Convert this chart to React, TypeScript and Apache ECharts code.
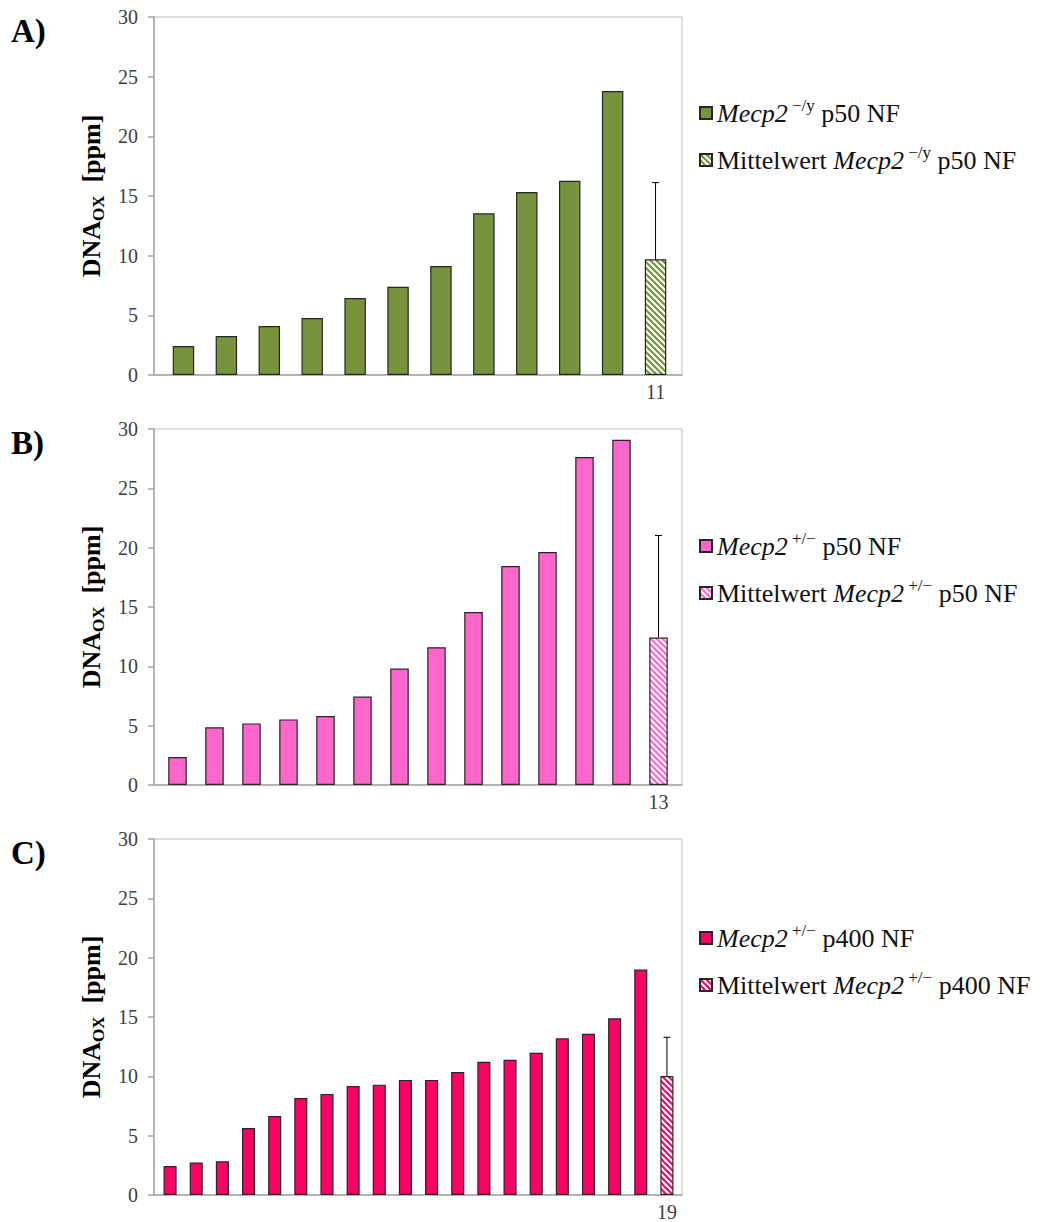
import React, { useEffect, useRef } from 'react';
import * as echarts from 'echarts';

// ---------- data ----------
const valuesA = [2.43, 3.27, 4.1, 4.78, 6.45, 7.4, 9.13, 13.55, 15.34, 16.28, 23.8];
const meanA = 9.69;
const sdA = 6.43;
const xLabelsA = ['', '', '', '', '', '', '', '', '', '', '', '11'];

const valuesB = [2.35, 4.86, 5.19, 5.53, 5.81, 7.45, 9.81, 11.61, 14.57, 18.45, 19.64, 27.63, 29.1];
const meanB = 12.43;
const sdB = 8.6;
const xLabelsB = ['', '', '', '', '', '', '', '', '', '', '', '', '', '13'];

const valuesC = [2.45, 2.73, 2.84, 5.65, 6.66, 8.18, 8.52, 9.19, 9.3, 9.7, 9.7, 10.37, 11.22, 11.39, 11.98, 13.2, 13.59, 14.89, 19.0];
const meanC = 10.03;
const sdC = 3.26;
const xLabelsC = ['', '', '', '', '', '', '', '', '', '', '', '', '', '', '', '', '', '', '', '19'];

const yMin = 0;
const yMax = 30;
const yInterval = 5;

const panelLabels = ['A)', 'B)', 'C)'];
const legendIndividual = [
  '{i|Mecp2}{s| −/y}{n| p50 NF}',
  '{i|Mecp2}{s| +/−}{n| p50 NF}',
  '{i|Mecp2}{s| +/−}{n| p400 NF}',
];
const legendMean = [
  '{n|Mittelwert }{i|Mecp2}{s| −/y}{n| p50 NF}',
  '{n|Mittelwert }{i|Mecp2}{s| +/−}{n| p50 NF}',
  '{n|Mittelwert }{i|Mecp2}{s| +/−}{n| p400 NF}',
];
const colors = ['#77933c', '#ff66cc', '#ff0066'];

// ---------- layout ----------
const FONT = "'Liberation Serif', serif";
const frameLeft = 154;
const frameWidth = 528;
const layout = [
  { top: 17, height: 358, barLeft: 162, barWidth: 515, legendTop: 92 },
  { top: 429, height: 356, barLeft: 159, barWidth: 518, legendTop: 525 },
  { top: 839, height: 356, barLeft: 157, barWidth: 523, legendTop: 917 },
];

function hatch(color: string) {
  const s = 6;
  const c = document.createElement('canvas');
  c.width = s;
  c.height = s;
  const ctx = c.getContext('2d')!;
  ctx.fillStyle = '#ffffff';
  ctx.fillRect(0, 0, s, s);
  ctx.strokeStyle = color;
  ctx.lineWidth = 2.2;
  for (const k of [-s, 0, s]) {
    ctx.beginPath();
    ctx.moveTo(-1, k - 1);
    ctx.lineTo(s + 1, s + k + 1);
    ctx.stroke();
  }
  return { image: c, repeat: 'repeat', imageWidth: s, imageHeight: s } as any;
}

export default function App() {
  const ref = useRef<HTMLDivElement>(null);

  useEffect(() => {
    if (!ref.current) return;
    const chart = echarts.init(ref.current, undefined, { renderer: 'svg' });

    const datasets = [
      { values: valuesA, mean: meanA, sd: sdA, xLabels: xLabelsA },
      { values: valuesB, mean: meanB, sd: sdB, xLabels: xLabelsB },
      { values: valuesC, mean: meanC, sd: sdC, xLabels: xLabelsC },
    ];

    const grid: any[] = [];
    const xAxis: any[] = [];
    const yAxis: any[] = [];
    const series: any[] = [];
    const legend: any[] = [];
    const graphic: any[] = [];

    datasets.forEach((d, p) => {
      const L = layout[p];
      const color = colors[p];
      grid.push({
        left: frameLeft, top: L.top, width: frameWidth, height: L.height,
        show: true, borderColor: '#bfbfbf', borderWidth: 1, backgroundColor: 'transparent',
      });
      grid.push({ left: L.barLeft, top: L.top, width: L.barWidth, height: L.height });

      xAxis.push({
        gridIndex: 2 * p, type: 'value', min: 0, max: 1,
        axisLine: { show: true, lineStyle: { color: '#a6a6a6', width: 1.5 } },
        axisTick: { show: false }, axisLabel: { show: false }, splitLine: { show: false },
      });
      xAxis.push({
        gridIndex: 2 * p + 1, type: 'category', data: d.xLabels,
        axisLine: { show: false }, axisTick: { show: false },
        axisLabel: {
          interval: 0, margin: 7, color: '#404040', fontFamily: FONT, fontSize: 20,
        },
      });
      yAxis.push({
        gridIndex: 2 * p, type: 'value', min: yMin, max: yMax, interval: yInterval,
        axisLine: { show: true, lineStyle: { color: '#a6a6a6', width: 1.5 } },
        axisTick: { show: true, length: 6, lineStyle: { color: '#a6a6a6', width: 1.5 } },
        axisLabel: { color: '#404040', fontFamily: FONT, fontSize: 20, margin: 16 },
        splitLine: { show: false },
        name: '{b|DNA}{s|OX}{b|  [ppm]}',
        nameLocation: 'middle', nameRotate: 90, nameGap: 41,
        nameTextStyle: {
          fontFamily: FONT,
          rich: {
            b: { fontFamily: FONT, fontWeight: 'bold', fontSize: 26, color: '#000', lineHeight: 32, verticalAlign: 'middle' },
            s: { fontFamily: FONT, fontWeight: 'bold', fontSize: 17, color: '#000', lineHeight: 32, verticalAlign: 'bottom' },
          },
        },
      });
      yAxis.push({ gridIndex: 2 * p + 1, type: 'value', min: yMin, max: yMax, show: false });

      const n = d.values.length;
      series.push({
        name: 'ind' + p, type: 'bar', xAxisIndex: 2 * p + 1, yAxisIndex: 2 * p + 1,
        data: [...d.values, '-'], barWidth: '50%', barGap: '-100%',
        itemStyle: { color, borderColor: '#262626', borderWidth: 1.2 },
      });
      series.push({
        name: 'mean' + p, type: 'bar', xAxisIndex: 2 * p + 1, yAxisIndex: 2 * p + 1,
        data: [...d.values.map(() => '-'), d.mean], barWidth: '50%', barGap: '-100%',
        itemStyle: { color: hatch(color), borderColor: '#262626', borderWidth: 1.2 },
      });
      series.push({
        name: 'err' + p, type: 'custom', xAxisIndex: 2 * p + 1, yAxisIndex: 2 * p + 1,
        data: [[n, d.mean, d.mean + d.sd]], z: 10,
        renderItem: (params: any, api: any) => {
          const base = api.coord([api.value(0), api.value(1)]);
          const top = api.coord([api.value(0), api.value(2)]);
          return {
            type: 'group',
            children: [
              { type: 'line', shape: { x1: base[0], y1: base[1], x2: top[0], y2: top[1] }, style: { stroke: '#000', lineWidth: 1 } },
              { type: 'line', shape: { x1: top[0] - 3.5, y1: top[1], x2: top[0] + 3.5, y2: top[1] }, style: { stroke: '#000', lineWidth: 1 } },
            ],
          };
        },
      });

      const richLegend = {
        n: { fontFamily: FONT, fontSize: 26, fontStyle: 'normal', fontWeight: 'normal', color: '#111', lineHeight: 32, verticalAlign: 'middle' },
        i: { fontFamily: FONT, fontSize: 26, fontStyle: 'italic', fontWeight: 'normal', color: '#111', lineHeight: 32, verticalAlign: 'middle' },
        s: { fontFamily: FONT, fontSize: 17, fontStyle: 'normal', fontWeight: 'normal', color: '#111', lineHeight: 32, verticalAlign: 'top' },
      };
      legend.push({
        orient: 'vertical', left: 694, top: L.legendTop, itemGap: 18,
        itemWidth: 12, itemHeight: 12, icon: 'rect',
        data: ['ind' + p, 'mean' + p],
        formatter: (name: string) => (name === 'ind' + p ? legendIndividual[p] : legendMean[p]),
        textStyle: { fontFamily: FONT, fontSize: 26, color: '#111', rich: richLegend },
        selectedMode: false,
      });

      graphic.push({
        type: 'text', left: 11, top: L.top - 3,
        style: { text: panelLabels[p], fontFamily: FONT, fontWeight: 'bold', fontSize: 33, fill: '#000' },
      });
    });

    chart.setOption({
      animation: false,
      backgroundColor: '#ffffff',
      textStyle: { fontFamily: FONT },
      grid, xAxis, yAxis, series, legend, graphic,
    });

    return () => chart.dispose();
  }, []);

  return (
    <div
      ref={ref}
      style={{ position: 'absolute', left: 0, top: 0, width: 1045, height: 1222, background: '#fff' }}
    />
  );
}
